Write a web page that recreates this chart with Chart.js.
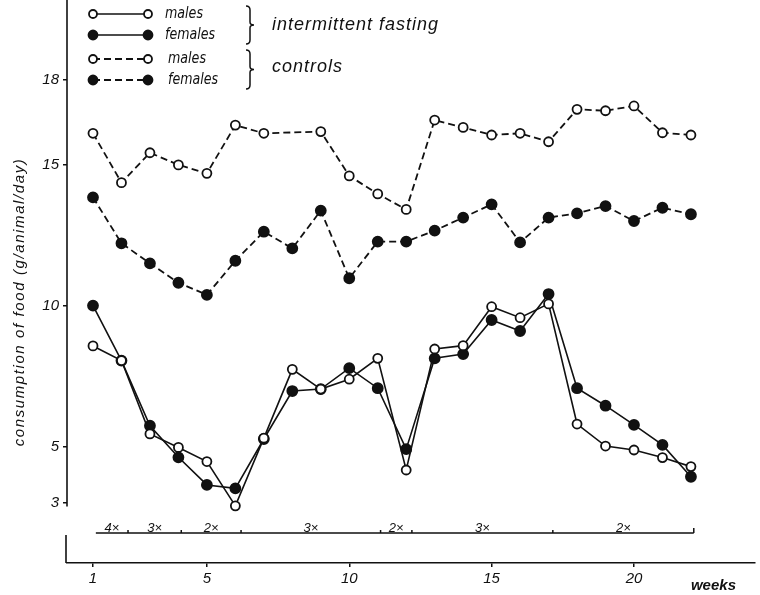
<!DOCTYPE html>
<html>
<head>
<meta charset="utf-8">
<script src="https://cdn.jsdelivr.net/npm/chart.js@4.4.1/dist/chart.umd.min.js"></script>
<style>
  html, body { margin: 0; padding: 0; background: #fff; }
</style>
</head>
<body>
<canvas id="foodChart" width="760" height="595"></canvas>
<script>
// weeks on the x axis and the tick values shown
const weeks = [1, 2, 3, 4, 5, 6, 7, 8, 9, 10, 11, 12, 13, 14, 15, 16, 17, 18, 19, 20, 21, 22];
const xTicks = [1, 5, 10, 15, 20];
const yTicks = [3, 5, 10, 15, 18];

// food consumption, g/animal/day
const ifMales     = [8.57, 8.05, 5.45, 4.97, 4.47, 2.9, 5.3, 7.74, 7.04, 7.39, 8.13, 4.17, 8.46, 8.58, 9.96, 9.57, 10.06, 5.8, 5.02, 4.88, 4.61, 4.29];
const ifFemales   = [10.0, 8.05, 5.74, 4.62, 3.64, 3.52, 5.27, 6.97, 7.04, 7.78, 7.07, 4.91, 8.13, 8.28, 9.49, 9.1, 10.41, 7.07, 6.45, 5.77, 5.06, 3.93];
const ctrlMales   = [16.11, 14.36, 15.42, 14.99, 14.69, 16.4, 16.11, null, 16.17, 14.6, 13.96, 13.41, 16.58, 16.32, 16.05, 16.11, 15.81, 16.96, 16.91, 17.08, 16.13, 16.05];
const ctrlFemales = [13.84, 12.21, 11.5, 10.81, 10.38, 11.59, 12.62, 12.03, 13.37, 10.97, 12.27, 12.27, 12.66, 13.12, 13.59, 12.24, 13.12, 13.27, 13.53, 13.0, 13.47, 13.24];

const groupNames = ['intermittent fasting', 'controls'];

// fasting regime per period (times per week), boundaries in weeks
const regimeBounds = [1.1, 2.23, 4.1, 6.2, 11.1, 12.2, 17.15, 22.1];
const regimeLabels = ['4×', '3×', '2×', '3×', '2×', '3×', '2×'];

const ink = '#111';
const fam = "'Liberation Sans', Arial, sans-serif";
const narrow = "'Liberation Sans Narrow', 'DejaVu Sans Condensed', 'Liberation Sans', sans-serif";

function toPoints(vals) {
  return vals.map((v, i) => ({ x: weeks[i], y: v }));
}

function series(label, vals, open, dashed) {
  return {
    label: label,
    data: toPoints(vals),
    borderColor: ink,
    borderWidth: dashed ? 1.8 : 1.6,
    borderDash: dashed ? [7, 4] : [],
    pointRadius: open ? 4.5 : 5,
    pointBorderWidth: 1.8,
    pointBackgroundColor: open ? '#fff' : ink,
    pointBorderColor: ink,
    tension: 0,
    spanGaps: true
  };
}

// axis lines, regime row, titles and the hand-made legend
const decor = {
  id: 'decor',
  afterDraw(chart) {
    const { ctx, chartArea: a, scales: { x, y } } = chart;
    ctx.save();
    ctx.strokeStyle = ink;
    ctx.fillStyle = ink;
    ctx.lineWidth = 1.6;

    // y axis stops just below the 3 tick
    ctx.beginPath();
    ctx.moveTo(a.left, a.top);
    ctx.lineTo(a.left, y.getPixelForValue(2.88));
    ctx.stroke();

    // little bracket on the week axis
    ctx.beginPath();
    ctx.moveTo(a.left - 1, a.bottom - 28);
    ctx.lineTo(a.left - 1, a.bottom);
    ctx.stroke();

    // regime row
    const ry = a.bottom - 30;
    const last = regimeBounds.length - 1;
    ctx.lineWidth = 1.5;
    ctx.beginPath();
    ctx.moveTo(x.getPixelForValue(regimeBounds[0]), ry);
    ctx.lineTo(x.getPixelForValue(regimeBounds[last]), ry);
    regimeBounds.slice(1).forEach((b, i) => {
      const px = x.getPixelForValue(b);
      ctx.moveTo(px, ry);
      ctx.lineTo(px, ry - (i + 1 === last ? 5 : 3));
    });
    ctx.stroke();
    ctx.font = 'italic 13px ' + fam;
    ctx.textAlign = 'center';
    ctx.textBaseline = 'alphabetic';
    regimeLabels.forEach((t, i) => {
      const mid = (regimeBounds[i] + regimeBounds[i + 1]) / 2;
      ctx.fillText(t, x.getPixelForValue(mid), ry - 1);
    });

    // "weeks"
    ctx.font = 'italic bold 15px ' + fam;
    ctx.textAlign = 'left';
    ctx.fillText('weeks', x.getPixelForValue(22), a.bottom + 27);

    // y title
    ctx.save();
    ctx.translate(20, 302);
    ctx.rotate(-Math.PI / 2);
    ctx.font = 'italic 15px ' + fam;
    ctx.letterSpacing = '1.6px';
    ctx.textAlign = 'center';
    ctx.textBaseline = 'middle';
    ctx.fillText('consumption of food (g/animal/day)', 0, 0, 296);
    ctx.restore();

    // legend rows
    const rows = [14, 35, 59, 80];
    chart.data.datasets.forEach((ds, i) => {
      const ly = rows[i];
      ctx.save();
      ctx.lineWidth = ds.borderWidth;
      ctx.setLineDash(ds.borderDash);
      ctx.beginPath();
      ctx.moveTo(93, ly);
      ctx.lineTo(148, ly);
      ctx.stroke();
      ctx.setLineDash([]);
      [93, 148].forEach(px => {
        ctx.beginPath();
        ctx.arc(px, ly, ds.pointRadius - 0.5, 0, Math.PI * 2);
        ctx.fillStyle = ds.pointBackgroundColor;
        ctx.fill();
        ctx.lineWidth = ds.pointBorderWidth;
        ctx.stroke();
      });
      ctx.restore();
      ctx.font = 'italic 16px ' + narrow;
      ctx.textAlign = 'left';
      ctx.textBaseline = 'middle';
      ctx.fillText(ds.label, 165 + (i > 1 ? 3 : 0), ly, i % 2 ? 50 : 38);
    });

    // braces
    function brace(bx, y1, y2) {
      const ym = (y1 + y2) / 2;
      ctx.beginPath();
      ctx.moveTo(bx - 4, y1);
      ctx.quadraticCurveTo(bx, y1, bx, y1 + 4);
      ctx.lineTo(bx, ym - 3);
      ctx.quadraticCurveTo(bx, ym, bx + 4, ym);
      ctx.quadraticCurveTo(bx, ym, bx, ym + 3);
      ctx.lineTo(bx, y2 - 4);
      ctx.quadraticCurveTo(bx, y2, bx - 4, y2);
      ctx.stroke();
    }
    ctx.lineWidth = 1.5;
    brace(250, 6, 44);
    brace(250, 50, 89);

    ctx.font = 'italic 18px ' + fam;
    ctx.letterSpacing = '1px';
    ctx.textAlign = 'left';
    ctx.textBaseline = 'middle';
    ctx.fillText(groupNames[0], 272, 25);
    ctx.fillText(groupNames[1], 272, 67);
    ctx.restore();
  }
};

new Chart(document.getElementById('foodChart'), {
  type: 'line',
  data: {
    datasets: [
      series('males', ifMales, true, false),
      series('females', ifFemales, false, false),
      series('males', ctrlMales, true, true),
      series('females', ctrlFemales, false, true)
    ]
  },
  options: {
    responsive: false,
    animation: false,
    layout: { autoPadding: false, padding: { left: 0, right: 5, top: 0, bottom: 0 } },
    plugins: {
      legend: { display: false },
      tooltip: { enabled: false }
    },
    scales: {
      x: {
        type: 'linear',
        min: 0.087,
        max: 24.25,
        afterBuildTicks: s => { s.ticks = xTicks.map(v => ({ value: v })); },
        afterFit: s => { s.height = 32; s.paddingLeft = 0; s.paddingRight = 0; },
        grid: { display: true, drawOnChartArea: false, drawTicks: true, tickLength: 4, color: ink, lineWidth: 1.5 },
        border: { display: true, color: ink, width: 1.5 },
        ticks: { padding: 3, autoSkip: false, maxRotation: 0, color: ink, font: { family: fam, size: 15, style: 'italic' } }
      },
      y: {
        type: 'linear',
        min: 0.872,
        max: 20.837,
        afterBuildTicks: s => { s.ticks = yTicks.map(v => ({ value: v })); },
        afterFit: s => { s.width = 67; s.paddingTop = 0; s.paddingBottom = 0; },
        grid: { display: true, drawOnChartArea: false, drawTicks: true, tickLength: 4, color: ink, lineWidth: 1.5 },
        border: { display: false },
        ticks: { padding: 4, color: ink, font: { family: fam, size: 15, style: 'italic' } }
      }
    }
  },
  plugins: [decor]
});
</script>
</body>
</html>
